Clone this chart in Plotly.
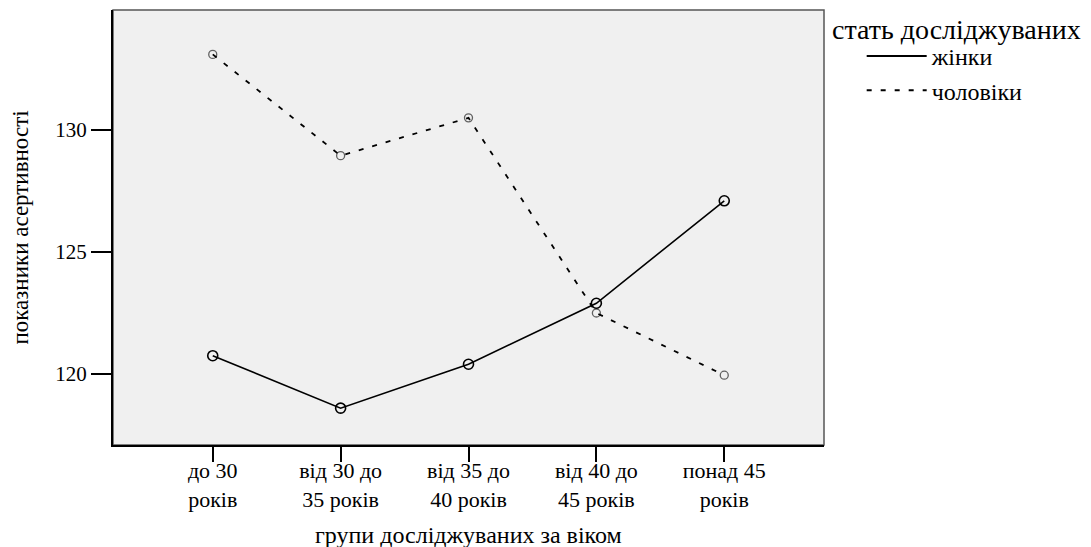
import plotly.graph_objects as go

categories = ["до 30<br>років", "від 30 до<br>35 років", "від 35 до<br>40 років", "від 40 до<br>45 років", "понад 45<br>років"]
women = [120.75, 118.6, 120.4, 122.9, 127.1]
men = [133.1, 128.95, 130.5, 122.5, 119.95]
yticks = [120, 125, 130]

FONT = "Liberation Serif"
x = list(range(len(categories)))
DASH = "5px,9px"

fig = go.Figure()
fig.add_trace(go.Scatter(
    x=x, y=women, name="жінки", mode="lines+markers", showlegend=False,
    line=dict(color="black", width=1.6),
    marker=dict(symbol="circle-open", size=10, color="black", line=dict(width=1.6)),
))
fig.add_trace(go.Scatter(
    x=x, y=men, name="чоловіки", mode="lines+markers", showlegend=False,
    line=dict(color="black", width=1.8, dash=DASH),
    marker=dict(symbol="circle-open", size=8, color="rgba(0,0,0,0.6)", line=dict(width=1.3)),
))
# legend-only entries (line samples without markers)
fig.add_trace(go.Scatter(
    x=[None], y=[None], name="жінки", mode="lines",
    line=dict(color="black", width=2), legendgroup="a",
))
fig.add_trace(go.Scatter(
    x=[None], y=[None], name="чоловіки", mode="lines",
    line=dict(color="black", width=2, dash=DASH), legendgroup="b",
))

fig.update_layout(
    width=1091, height=547,
    margin=dict(l=113, r=267, t=10, b=102),
    paper_bgcolor="white",
    plot_bgcolor="#F0F0F0",
    font=dict(family=FONT, size=20, color="black"),
    showlegend=True,
    legend=dict(
        x=1.053, y=0.945, xanchor="left", yanchor="top",
        font=dict(family=FONT, size=24, color="black"),
        bgcolor="rgba(0,0,0,0)",
        traceorder="grouped", tracegroupgap=0,
        itemwidth=60,
    ),
    annotations=[
        dict(
            text="стать досліджуваних", xref="paper", yref="paper",
            x=1.008, y=0.995, xanchor="left", yanchor="top", showarrow=False,
            font=dict(family=FONT, size=28, color="black"),
        ),
        dict(
            text="групи досліджуваних за віком", xref="paper", yref="paper",
            x=0.5, y=-0.207, xanchor="center", yanchor="middle", showarrow=False,
            font=dict(family=FONT, size=24, color="black"),
        ),
    ],
    shapes=[dict(
        type="rect", xref="paper", yref="paper", x0=0, y0=0, x1=1, y1=1,
        line=dict(color="#555555", width=1.5), layer="below",
    )],
)
fig.update_xaxes(
    range=[-0.78, 4.78], tickmode="array", tickvals=x, ticktext=categories,
    showgrid=False, zeroline=False, automargin=False,
    showline=True, linecolor="black", linewidth=2,
    ticks="outside", ticklen=15, tickwidth=2, tickcolor="black",
    tickfont=dict(family=FONT, size=22), ticklabelstandoff=-10,
)
fig.update_yaxes(
    range=[117.09, 134.92], tickmode="array", tickvals=yticks,
    showgrid=False, zeroline=False, automargin=False,
    showline=True, linecolor="black", linewidth=2,
    ticks="outside", ticklen=20, tickwidth=2, tickcolor="black",
    tickfont=dict(family=FONT, size=21),
    title=dict(text="показники асертивності", font=dict(family=FONT, size=23), standoff=20),
)

fig.write_html("out.html", config={"displayModeBar": False},
               post_script="document.body.style.margin='0';document.body.style.padding='0';")
